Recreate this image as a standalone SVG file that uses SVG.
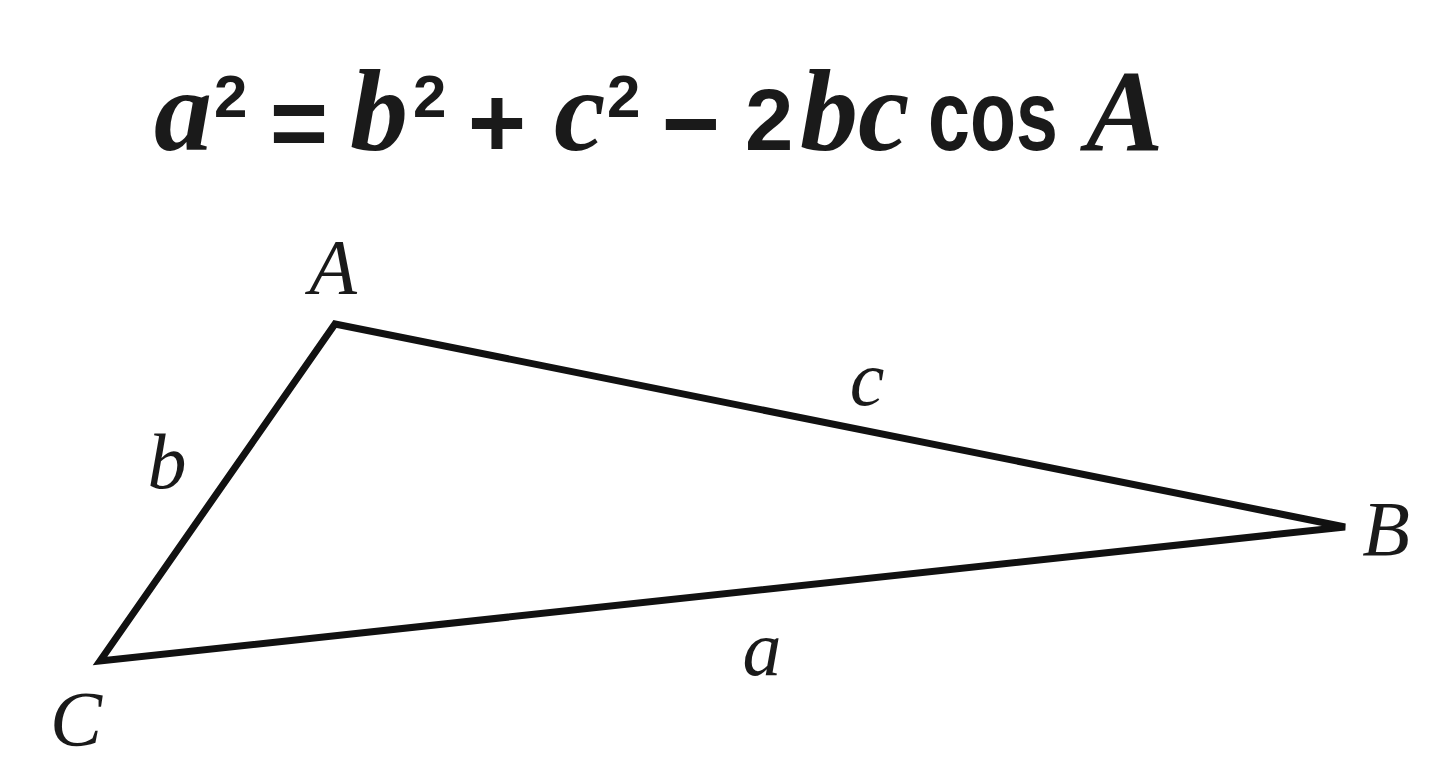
<svg xmlns="http://www.w3.org/2000/svg" width="1440" height="780" viewBox="0 0 1440 780">
<style>
.v{font-family:"Liberation Serif","DejaVu Serif",serif;font-style:italic;font-weight:bold;font-size:116px;fill:#1a1a1a}
.s{font-family:"Liberation Sans","DejaVu Sans",sans-serif;font-weight:bold;fill:#1a1a1a}
.sup{font-size:60px}
.op{font-size:100px;text-anchor:middle}
.lbl{font-family:"Liberation Serif","DejaVu Serif",serif;font-style:italic;font-size:78px;fill:#1a1a1a}
.edge{fill:none;stroke:#111;stroke-width:7;stroke-linejoin:miter}
</style>
<rect width="1440" height="780" fill="#fff"/>
<g id="formula">
<text class="v" x="154" y="150">a</text>
<text class="s sup" x="214" y="117">2</text>
<text class="s op" x="299" y="157">=</text>
<text class="v" x="350" y="150">b</text>
<text class="s sup" x="413" y="117">2</text>
<text class="s op" x="497" y="157">+</text>
<text class="v" x="554" y="150">c</text>
<text class="s sup" x="607" y="117">2</text>
<text class="s op" x="691" y="158">−</text>
<text class="s" x="745" y="150" font-size="87">2</text>
<text class="v" x="800" y="150">b</text>
<text class="v" x="858" y="150">c</text>
<text class="s" x="928" y="150" font-size="100" textLength="130" lengthAdjust="spacingAndGlyphs">cos</text>
<text class="v" x="1086" y="150">A</text>
</g>
<g id="connectors">
<polygon class="edge" points="335,324 1345,527 100,661"/>
</g>
<g id="vertex-A"><text class="lbl" x="333" y="293" text-anchor="middle">A</text></g>
<g id="vertex-B"><text class="lbl" x="1386" y="555" text-anchor="middle">B</text></g>
<g id="vertex-C"><text class="lbl" x="76" y="745" text-anchor="middle">C</text></g>
<g id="side-a"><text class="lbl" x="762" y="675" text-anchor="middle">a</text></g>
<g id="side-b"><text class="lbl" x="167" y="488" text-anchor="middle">b</text></g>
<g id="side-c"><text class="lbl" x="867" y="405" text-anchor="middle">c</text></g>
</svg>
